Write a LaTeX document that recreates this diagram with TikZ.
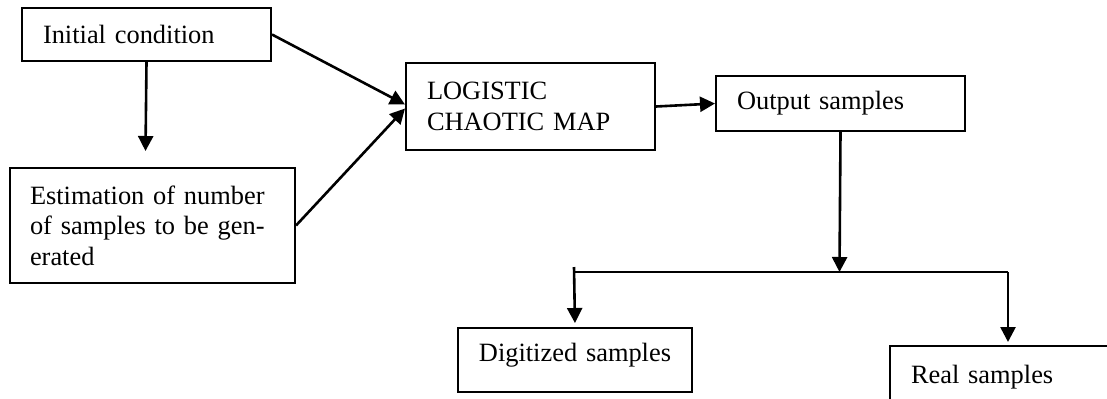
\documentclass[tikz,border=0pt]{standalone}
\usepackage{fontspec}
\setmainfont{Liberation Serif}
\usepackage{tikz}
\usetikzlibrary{arrows.meta}

\tikzset{
  blk/.style={draw, line width=1pt, inner xsep=10.5pt, inner ysep=0pt, align=left,
              font=\fontsize{13.2}{15.5}\selectfont}, % plain box
  flow/.style={line width=1.3pt, -{Triangle[length=7.5pt,width=7.5pt]}} % arrow
}

\begin{document}
\begin{tikzpicture}[x=0.5pt, y=-0.5pt]
  \useasboundingbox (0,0) rectangle (1107,398);
  \clip (0,0) rectangle (1107,398);

  % boxes
  \node[blk, anchor=north west, text width=103.5pt, minimum height=26.5pt] (init) at (21,7) {Initial condition};
  \node[blk, anchor=north west, text width=122.5pt, inner xsep=10pt, minimum height=57.5pt, font=\fontsize{13.2}{15.3}\selectfont] (est) at (9,167)
    {Estimation of number\\ of samples to be gen-\\ erated};
  \node[blk, anchor=north west, text width=103.5pt, minimum height=43.5pt] (logi) at (405,62) {LOGISTIC\\ CHAOTIC MAP};
  \node[blk, anchor=north west, text width=107pt, inner xsep=5pt, align=center, text depth=8pt, minimum height=32pt] (dig) at (457,327) {Digitized samples};
  \node[blk, anchor=north west, text width=103.5pt, minimum height=27.5pt] (out) at (715,75) {Output samples};
  \node[blk, anchor=north west, text width=103.5pt, minimum height=31pt] (real) at (889,345) {Real samples};

  % connectors
  \coordinate (t1) at (145.5,151);
  \coordinate (j) at (839.5,272);
  \coordinate (jl) at (574,272);
  \coordinate (jr) at (1008,272);
  \draw[flow] (init.south) -- (t1);
  \draw[flow] (init.east) -- ([yshift=1pt]logi.west);
  \draw[flow] (est.east) -- ([yshift=-1pt]logi.west);
  \draw[flow] (logi.east) -- (out.west);
  \draw[flow] (out.south) -- (j);
  \draw[line width=1.3pt] (jl) -- (jr);
  \draw[flow, shorten >=2pt] ([yshift=2.5pt]jl) -- (dig.north);
  \draw[flow, shorten >=1.5pt] (jr) -- (jr |- real.north);
\end{tikzpicture}
\end{document}
